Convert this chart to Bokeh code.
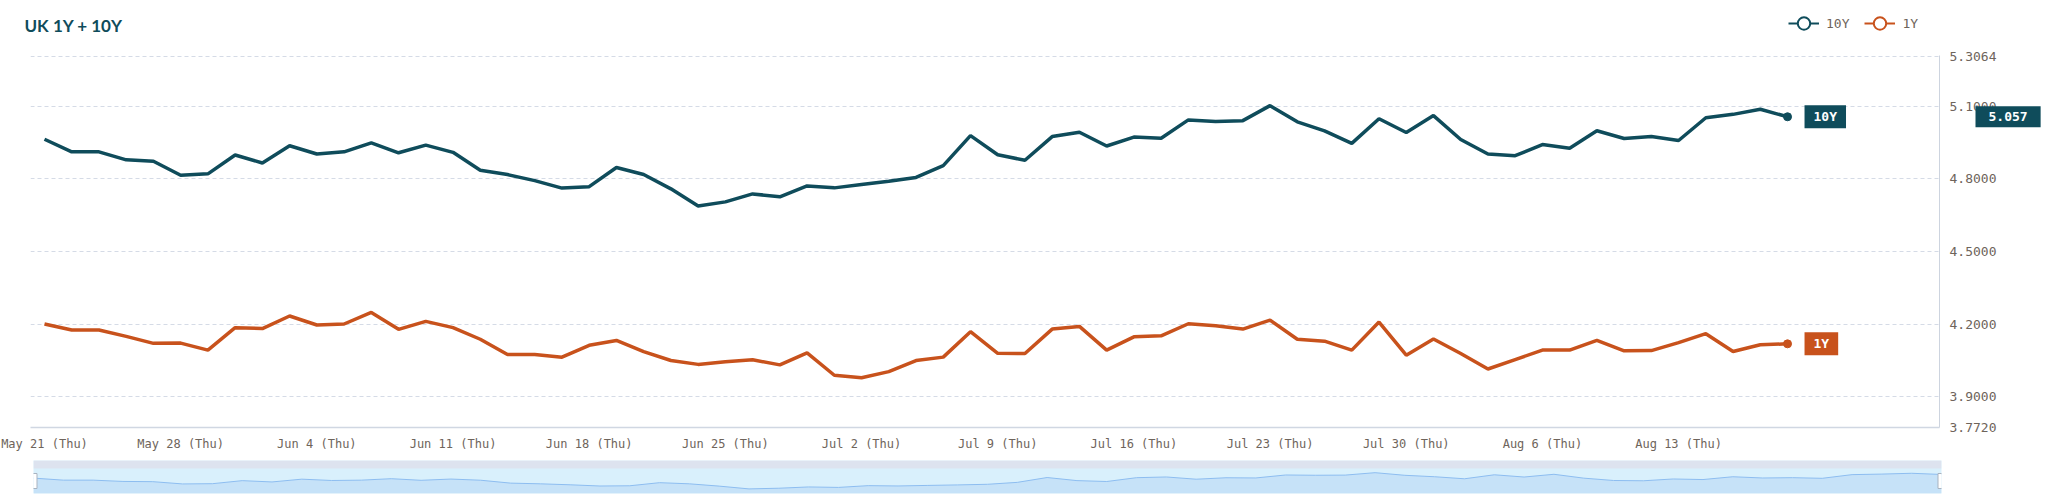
from bokeh.plotting import figure
from bokeh.models import (Range1d, FixedTicker, Label, Legend, LegendItem, GridBox,
                          BoxAnnotation, ColumnDataSource, PrintfTickFormatter)
from bokeh.embed import file_html
from bokeh.resources import INLINE

# ---------------- data ----------------
title_text = "UK 1Y + 10Y"
series_names = ["10Y", "1Y"]

ten_y = [4.964, 4.912, 4.912, 4.879, 4.873, 4.815, 4.821, 4.899, 4.866, 4.937,
         4.903, 4.912, 4.949, 4.908, 4.940, 4.910, 4.836, 4.818, 4.793, 4.762,
         4.768, 4.847, 4.818, 4.759, 4.688, 4.705, 4.738, 4.726, 4.771, 4.763,
         4.777, 4.790, 4.806, 4.855, 4.979, 4.900, 4.877, 4.975, 4.993, 4.936,
         4.973, 4.968, 5.044, 5.037, 5.041, 5.103, 5.036, 4.999, 4.947, 5.049,
         4.992, 5.062, 4.963, 4.903, 4.896, 4.942, 4.927, 4.999, 4.967, 4.975,
         4.959, 5.053, 5.067, 5.088, 5.057]

one_y = [4.200, 4.175, 4.175, 4.149, 4.120, 4.121, 4.092, 4.185, 4.181, 4.233,
         4.196, 4.200, 4.248, 4.178, 4.211, 4.185, 4.137, 4.074, 4.074, 4.063,
         4.112, 4.132, 4.086, 4.049, 4.033, 4.044, 4.052, 4.031, 4.081, 3.988,
         3.978, 4.003, 4.049, 4.063, 4.168, 4.079, 4.078, 4.179, 4.190, 4.092,
         4.147, 4.151, 4.201, 4.193, 4.179, 4.216, 4.137, 4.129, 4.092, 4.208,
         4.071, 4.138, 4.078, 4.014, 4.053, 4.092, 4.092, 4.132, 4.089, 4.090,
         4.123, 4.160, 4.086, 4.114, 4.118]

tick_labels = ["May 21 (Thu)", "May 28 (Thu)", "Jun 4 (Thu)", "Jun 11 (Thu)",
               "Jun 18 (Thu)", "Jun 25 (Thu)", "Jul 2 (Thu)", "Jul 9 (Thu)",
               "Jul 16 (Thu)", "Jul 23 (Thu)", "Jul 30 (Thu)", "Aug 6 (Thu)",
               "Aug 13 (Thu)"]
tick_step = 5  # business days per week

y_ticks = [3.772, 3.9, 4.2, 4.5, 4.8, 5.1, 5.3064]
y_min, y_max = 3.772, 5.3064

# ---------------- style / geometry ----------------
TEAL = "#0f4c5b"
ORANGE = "#c8521c"
TICK_COLOR = "#6e645b"
GRID = "#d5dbe6"
MONO = "DejaVu Sans Mono"
W, H, H_TOTAL = 2044, 453, 495
BL, BR, BT, BB = 30, 105, 55, 26          # borders around the main frame
FW, FH = W - BL - BR, H - BT - BB          # frame size
NAN = float("nan")

x = list(range(len(ten_y)))
src = ColumnDataSource(dict(x=x, ten=ten_y, one=one_y))

x_start, x_end = -0.514, len(x) - 1 + 5.58
y_top = y_max + 0.004

p = figure(width=W, height=H, x_range=Range1d(x_start, x_end),
           y_range=Range1d(y_min, y_top), y_axis_location="right",
           output_backend="svg", toolbar_location=None,
           min_border_left=BL, min_border_right=BR,
           min_border_top=BT, min_border_bottom=BB)
p.frame_align = False
p.outline_line_color = None
p.xgrid.visible = False
p.ygrid.grid_line_color = GRID
p.ygrid.grid_line_dash = "4 3"
p.ygrid.grid_line_width = 1

p.yaxis.ticker = FixedTicker(ticks=y_ticks)
p.yaxis.formatter = PrintfTickFormatter(format="%.4f")
p.yaxis.axis_line_color = "#cdd4df"
p.yaxis.major_tick_out = 0
p.yaxis.major_tick_in = 0
p.yaxis.minor_tick_out = 0
p.yaxis.major_tick_line_color = None
p.yaxis.minor_tick_line_color = None
p.yaxis.major_label_standoff = 10
p.yaxis.major_label_text_font = MONO
p.yaxis.major_label_text_font_size = "13px"
p.yaxis.major_label_text_color = TICK_COLOR

p.xaxis.ticker = FixedTicker(ticks=[i * tick_step for i in range(len(tick_labels))])
p.xaxis.major_label_overrides = {i * tick_step: lab for i, lab in enumerate(tick_labels)}
p.xaxis.axis_line_color = "#d0d7e2"
p.xaxis.axis_line_width = 1.5
p.xaxis.major_tick_out = 0
p.xaxis.major_tick_in = 0
p.xaxis.minor_tick_out = 0
p.xaxis.major_tick_line_color = None
p.xaxis.minor_tick_line_color = None
p.xaxis.major_label_standoff = 9
p.xaxis.major_label_text_font = MONO
p.xaxis.major_label_text_font_size = "12px"
p.xaxis.major_label_text_color = TICK_COLOR

p.line("x", "ten", source=src, line_color=TEAL, line_width=3.5)
p.line("x", "one", source=src, line_color=ORANGE, line_width=3.5)
p.scatter([x[-1]], [ten_y[-1]], size=8, color=TEAL)
p.scatter([x[-1]], [one_y[-1]], size=8, color=ORANGE)

# end-of-line tags
for name, ys, col in [(series_names[0], ten_y, TEAL), (series_names[1], one_y, ORANGE)]:
    p.add_layout(Label(x=x[-1], y=ys[-1], x_offset=17, text=name, anchor="center_left",
                       text_color="white", text_font=MONO, text_font_size="13px",
                       text_font_style="bold", background_fill_color=col,
                       padding=(9, 4)))

# ---------------- transparent overlay (same data mapping, frame = whole canvas) ----
ux = (x_end - x_start) / FW
uy = (y_top - y_min) / FH
ov = figure(width=W, height=H,
            x_range=Range1d(x_start - BL * ux, x_end + BR * ux),
            y_range=Range1d(y_min - BB * uy, y_top + BT * uy),
            x_axis_location=None, y_axis_location=None, min_border=0,
            output_backend="svg", toolbar_location=None)
ov.frame_align = False
ov.outline_line_color = None
ov.background_fill_color = None
ov.border_fill_color = None
ov.grid.visible = False

# title
ov.add_layout(Label(x=x_start, y=y_top, x_offset=-6, y_offset=30, text=title_text,
                    anchor="center_left", text_color=TEAL, text_font="Lato",
                    text_font_size="17px", text_font_style="bold"))

# current value tag on the axis
ov.add_layout(Label(x=x_end, y=ten_y[-1], x_offset=36, text=f"{ten_y[-1]:.3f}",
                    anchor="center_left", text_color="white", text_font=MONO,
                    text_font_size="13px", text_font_style="bold",
                    background_fill_color=TEAL, padding=(13, 6)))

# legend (line + hollow circle); proxy renderers hold a single NaN point
items = []
for name, col in [(series_names[0], TEAL), (series_names[1], ORANGE)]:
    lr = ov.line(x=[NAN], y=[NAN], line_color=col, line_width=2)
    cr = ov.scatter(x=[NAN], y=[NAN], size=10, line_color=col, fill_color="white",
                    line_width=2)
    items.append(LegendItem(label=name, renderers=[lr, cr]))
legend = Legend(items=items, location=(1788, H - 39), orientation="horizontal",
                glyph_width=31, glyph_height=32, label_standoff=7, spacing=15,
                padding=0, margin=0, label_width=0,
                label_text_font=MONO, label_text_font_size="13px",
                label_text_color=TICK_COLOR,
                border_line_color=None, background_fill_alpha=0)
ov.add_layout(legend, "center")

# ---------------- navigator ----------------
nav_lo, area_top, nav_hi = 4.57, 5.21, 5.415
nav = figure(width=W, height=H_TOTAL - H, x_range=Range1d(0, len(x) - 1),
             y_range=Range1d(nav_lo, nav_hi), x_axis_location=None,
             y_axis_location=None, output_backend="svg", toolbar_location=None,
             min_border_left=33, min_border_right=W - 1941, min_border_top=7,
             min_border_bottom=2)
nav.frame_align = False
nav.outline_line_color = None
nav.grid.visible = False
nav.background_fill_color = "#d9f0fc"
nav.add_layout(BoxAnnotation(bottom=area_top, fill_color="#dde3ef", fill_alpha=1,
                             line_color=None))
nav.varea(x="x", y1=nav_lo, y2="ten", source=src, fill_color="#c6e2f8")
nav.line("x", "ten", source=src, line_color="#8dbdf0", line_width=1)
nav.rect(x=[x[0], x[-1]], y=[(nav_lo + area_top) / 2] * 2, width=7, height=15,
         width_units="screen", height_units="screen", fill_color="white",
         line_color="#a9b3c0")

layout = GridBox(children=[(p, 0, 0), (ov, 0, 0), (nav, 1, 0)], spacing=0)
open("out.html", "w").write(file_html(layout, INLINE))
